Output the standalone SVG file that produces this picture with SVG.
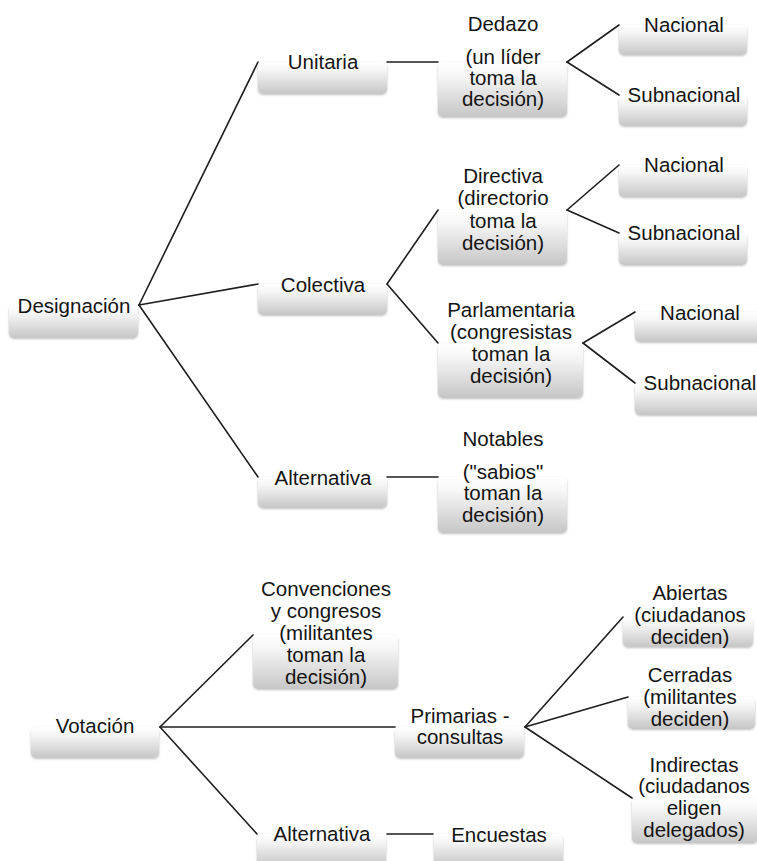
<svg xmlns="http://www.w3.org/2000/svg" width="757" height="861" viewBox="0 0 757 861">
<defs>
<linearGradient id="g" x1="0" y1="0" x2="0" y2="1">
<stop offset="0" stop-color="#ffffff"/>
<stop offset="0.25" stop-color="#f6f6f6"/>
<stop offset="1" stop-color="#c6c6c6"/>
</linearGradient>
<filter id="sh" x="-5%" y="-10%" width="110%" height="125%">
<feGaussianBlur in="SourceAlpha" stdDeviation="1"/>
<feOffset dy="1" result="b"/>
<feComponentTransfer><feFuncA type="linear" slope="0.25"/></feComponentTransfer>
<feMerge><feMergeNode/><feMergeNode in="SourceGraphic"/></feMerge>
</filter>
</defs>
<style>
rect.b{fill:url(#g);filter:url(#sh)}
text{font-family:"Liberation Sans",Arial,sans-serif;font-size:20.5px;fill:#141414;text-anchor:middle}
.c line{stroke:#1e1e1e;stroke-width:1.6;stroke-linecap:round}
</style>
<rect width="757" height="861" fill="#ffffff"/>

<g class="c" id="connectors">
<line x1="139" y1="305" x2="258" y2="62"/>
<line x1="139" y1="305" x2="258" y2="284"/>
<line x1="139" y1="305" x2="258" y2="477"/>
<line x1="387" y1="62" x2="438" y2="62"/>
<line x1="567" y1="62" x2="619" y2="25"/>
<line x1="567" y1="62" x2="619" y2="95"/>
<line x1="387" y1="284" x2="438" y2="210"/>
<line x1="387" y1="284" x2="438" y2="343"/>
<line x1="567" y1="210" x2="619" y2="165"/>
<line x1="567" y1="210" x2="619" y2="233"/>
<line x1="583" y1="343" x2="635" y2="312"/>
<line x1="583" y1="343" x2="635" y2="383"/>
<line x1="387" y1="477" x2="438" y2="477"/>
<line x1="160" y1="727" x2="253" y2="635"/>
<line x1="160" y1="727" x2="395" y2="727"/>
<line x1="160" y1="727" x2="257" y2="834"/>
<line x1="525" y1="727" x2="623" y2="617"/>
<line x1="525" y1="727" x2="628" y2="697"/>
<line x1="525" y1="727" x2="632" y2="798"/>
<line x1="387" y1="834" x2="433" y2="834"/>
</g>

<g id="designacion"><rect class="b" x="9" y="305" width="129" height="33" rx="5"/><text x="74" y="313">Designación</text></g>
<g id="unitaria"><rect class="b" x="258" y="62" width="129" height="32" rx="5"/><text x="323" y="69">Unitaria</text></g>
<g id="dedazo"><rect class="b" x="438" y="62" width="129" height="55" rx="5"/>
<text x="503" y="31">Dedazo</text><text x="503" y="64">(un líder</text><text x="503" y="85">toma la</text><text x="503" y="106">decisión)</text></g>
<g id="nacional1"><rect class="b" x="619" y="25" width="128" height="30" rx="5"/><text x="684" y="32">Nacional</text></g>
<g id="subnacional1"><rect class="b" x="619" y="95" width="128" height="31" rx="5"/><text x="684" y="102">Subnacional</text></g>

<g id="colectiva"><rect class="b" x="258" y="284" width="129" height="31" rx="5"/><text x="323" y="292">Colectiva</text></g>
<g id="directiva"><rect class="b" x="438" y="210" width="129" height="55" rx="5"/>
<text x="503" y="183">Directiva</text><text x="503" y="205">(directorio</text><text x="503" y="228">toma la</text><text x="503" y="250">decisión)</text></g>
<g id="nacional2"><rect class="b" x="619" y="165" width="128" height="32" rx="5"/><text x="684" y="172">Nacional</text></g>
<g id="subnacional2"><rect class="b" x="619" y="233" width="128" height="32" rx="5"/><text x="684" y="240">Subnacional</text></g>
<g id="parlamentaria"><rect class="b" x="438" y="343" width="145" height="55" rx="5"/>
<text x="511" y="317">Parlamentaria</text><text x="511" y="339">(congresistas</text><text x="511" y="361">toman la</text><text x="511" y="383">decisión)</text></g>
<g id="nacional3"><rect class="b" x="635" y="312" width="128" height="30" rx="5"/><text x="700" y="320">Nacional</text></g>
<g id="subnacional3"><rect class="b" x="635" y="383" width="128" height="32" rx="5"/><text x="700" y="390">Subnacional</text></g>

<g id="alternativa1"><rect class="b" x="258" y="477" width="129" height="31" rx="5"/><text x="323" y="485">Alternativa</text></g>
<g id="notables"><rect class="b" x="438" y="477" width="129" height="56" rx="5"/>
<text x="503" y="446">Notables</text><text x="503" y="479">("sabios"</text><text x="503" y="500">toman la</text><text x="503" y="522">decisión)</text></g>

<g id="votacion"><rect class="b" x="31" y="727" width="128" height="31" rx="5"/><text x="95" y="733">Votación</text></g>
<g id="convenciones"><rect class="b" x="253" y="635" width="145" height="54" rx="5"/>
<text x="326" y="596">Convenciones</text><text x="326" y="618">y congresos</text><text x="326" y="640">(militantes</text><text x="326" y="662">toman la</text><text x="326" y="684">decisión)</text></g>
<g id="primarias"><rect class="b" x="395" y="727" width="129" height="31" rx="5"/>
<text x="460" y="723">Primarias -</text><text x="460" y="744">consultas</text></g>
<g id="abiertas"><rect class="b" x="623" y="617" width="130" height="30" rx="5"/>
<text x="690" y="600">Abiertas</text><text x="690" y="622">(ciudadanos</text><text x="690" y="644">deciden)</text></g>
<g id="cerradas"><rect class="b" x="628" y="697" width="127" height="32" rx="5"/>
<text x="690" y="682">Cerradas</text><text x="690" y="704">(militantes</text><text x="690" y="726">deciden)</text></g>
<g id="indirectas"><rect class="b" x="632" y="798" width="126" height="45" rx="5"/>
<text x="694" y="772">Indirectas</text><text x="694" y="793">(ciudadanos</text><text x="694" y="815">eligen</text><text x="694" y="837">delegados)</text></g>
<g id="alternativa2"><rect class="b" x="257" y="834" width="129" height="32" rx="5"/><text x="322" y="841">Alternativa</text></g>
<g id="encuestas"><rect class="b" x="434" y="834" width="129" height="32" rx="5"/><text x="499" y="842">Encuestas</text></g>
</svg>
